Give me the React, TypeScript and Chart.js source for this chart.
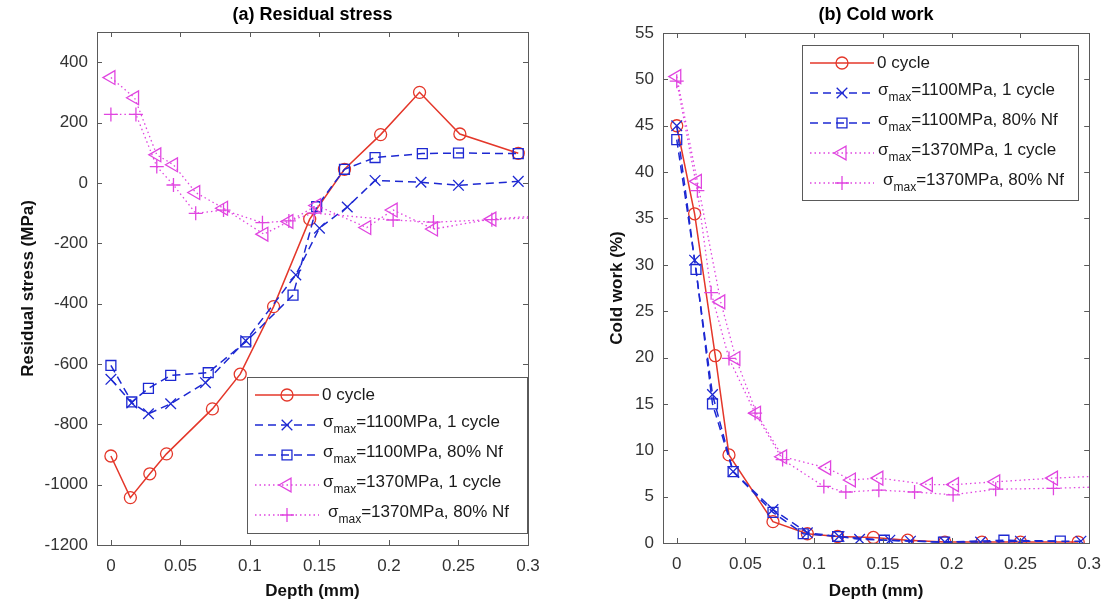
import React, { useEffect, useRef } from 'react';
import { Chart, registerables } from 'chart.js';
Chart.register(...registerables);

// ---------- data ----------
const xTicks = [0, 0.05, 0.1, 0.15, 0.2, 0.25, 0.3];
const stressTicks = [-1200, -1000, -800, -600, -400, -200, 0, 200, 400];
const coldTicks = [0, 5, 10, 15, 20, 25, 30, 35, 40, 45, 50, 55];

const seriesNames = ['0 cycle', '=1100MPa, 1 cycle', '=1100MPa, 80% Nf', '=1370MPa, 1 cycle', '=1370MPa, 80% Nf'];

// (a) residual stress (MPa)
const rsX0 = [0, 0.014, 0.028, 0.040, 0.073, 0.093, 0.117, 0.143, 0.168, 0.194, 0.222, 0.251, 0.293];
const rsY0 = [-905, -1043, -964, -898, -749, -634, -410, -120, 45, 160, 300, 162, 98];
const rsX1 = [0, 0.015, 0.027, 0.043, 0.068, 0.097, 0.133, 0.150, 0.170, 0.190, 0.223, 0.250, 0.293];
const rsY1 = [-651, -729, -765, -732, -662, -523, -305, -150, -80, 8, 2, -8, 5];
const rsX2 = [0, 0.015, 0.027, 0.043, 0.070, 0.097, 0.131, 0.148, 0.168, 0.190, 0.224, 0.250, 0.293];
const rsY2 = [-605, -726, -681, -638, -629, -527, -372, -79, 45, 84, 97, 99, 97];
const rsX3 = [0, 0.017, 0.033, 0.045, 0.061, 0.081, 0.110, 0.128, 0.148, 0.184, 0.203, 0.232, 0.274, 0.32];
const rsY3 = [349, 282, 93, 60, -32, -84, -170, -128, -75, -148, -90, -153, -120, -105];
const rsX4 = [0, 0.018, 0.033, 0.045, 0.061, 0.081, 0.109, 0.128, 0.146, 0.203, 0.232, 0.274, 0.32];
const rsY4 = [227, 227, 54, -7, -101, -90, -132, -126, -100, -123, -130, -122, -112];

// (b) cold work (%)
const cwX0 = [0, 0.013, 0.028, 0.038, 0.070, 0.095, 0.117, 0.143, 0.168, 0.195, 0.222, 0.250, 0.292];
const cwY0 = [45, 35.5, 20.2, 9.5, 2.3, 1.0, 0.7, 0.6, 0.3, 0.1, 0.1, 0.1, 0.1];
const cwX1 = [0, 0.013, 0.026, 0.041, 0.070, 0.095, 0.118, 0.133, 0.155, 0.170, 0.195, 0.221, 0.250, 0.294];
const cwY1 = [45, 30.5, 16, 7.7, 3.6, 1.1, 0.7, 0.4, 0.3, 0.2, 0.1, 0.1, 0.2, 0.2];
const cwX2 = [0, 0.014, 0.026, 0.041, 0.070, 0.092, 0.117, 0.151, 0.194, 0.238, 0.279];
const cwY2 = [43.5, 29.5, 15, 7.7, 3.3, 1.0, 0.7, 0.3, 0.1, 0.3, 0.2];
const cwX3 = [0, 0.015, 0.032, 0.043, 0.058, 0.077, 0.109, 0.127, 0.147, 0.183, 0.202, 0.232, 0.274, 0.32];
const cwY3 = [50.3, 39, 26, 19.9, 14, 9.3, 8.1, 6.8, 7.0, 6.3, 6.3, 6.6, 7.0, 7.3];
const cwX4 = [0, 0.015, 0.025, 0.038, 0.057, 0.077, 0.107, 0.123, 0.147, 0.173, 0.201, 0.232, 0.274, 0.32];
const cwY4 = [49.8, 38, 27, 19.9, 14, 9, 6.1, 5.5, 5.7, 5.5, 5.2, 5.8, 5.9, 6.1];

// ---------- styles ----------
const FONT = '"Liberation Sans", Arial, Helvetica, sans-serif';
const RED = '#e4372a';
const BLUE = '#1d28d2';
const MAG = '#e045e0';
const styles = [
  { color: RED, dash: [] as number[], marker: 'circle', r: 6, rot: 0, lw: 1.5 },
  { color: BLUE, dash: [8, 5], marker: 'crossRot', r: 7.5, rot: 0, lw: 1.5 },
  { color: BLUE, dash: [8, 5], marker: 'rect', r: 7, rot: 0, lw: 1.5 },
  { color: MAG, dash: [1.5, 3], marker: 'triangle', r: 8, rot: -90, lw: 1.3 },
  { color: MAG, dash: [1.5, 3], marker: 'cross', r: 7, rot: 0, lw: 1.3 },
];

function drawMarker(ctx: CanvasRenderingContext2D, m: string, x: number, y: number, r: number) {
  ctx.beginPath();
  if (m === 'circle') {
    ctx.arc(x, y, r, 0, Math.PI * 2);
  } else if (m === 'rect') {
    const s = r * Math.SQRT1_2;
    ctx.rect(x - s, y - s, 2 * s, 2 * s);
  } else if (m === 'triangle') {
    ctx.moveTo(x - r, y);
    ctx.lineTo(x + r * 0.5, y - r * 0.866);
    ctx.lineTo(x + r * 0.5, y + r * 0.866);
    ctx.closePath();
  } else if (m === 'cross') {
    ctx.moveTo(x - r, y); ctx.lineTo(x + r, y);
    ctx.moveTo(x, y - r); ctx.lineTo(x, y + r);
  } else if (m === 'crossRot') {
    const d = r * Math.SQRT1_2;
    ctx.moveTo(x - d, y - d); ctx.lineTo(x + d, y + d);
    ctx.moveTo(x - d, y + d); ctx.lineTo(x + d, y - d);
  }
  ctx.stroke();
}

function makeFrame(title: string, lg: { x: number; y: number; w: number; h: number }) {
  return {
    id: 'frame',
    afterDraw(chart: any) {
      const { ctx, chartArea: a, scales } = chart;
      ctx.save();
      // box
      ctx.strokeStyle = '#5a5a5a';
      ctx.lineWidth = 1;
      ctx.setLineDash([]);
      ctx.strokeRect(Math.round(a.left) + 0.5, Math.round(a.top) + 0.5, Math.round(a.right - a.left), Math.round(a.bottom - a.top));
      const L = 5;
      ctx.beginPath();
      for (const t of scales.x.ticks) {
        const px = Math.round(scales.x.getPixelForValue(t.value)) + 0.5;
        ctx.moveTo(px, a.bottom); ctx.lineTo(px, a.bottom - L);
        ctx.moveTo(px, a.top); ctx.lineTo(px, a.top + L);
      }
      for (const t of scales.y.ticks) {
        const py = Math.round(scales.y.getPixelForValue(t.value)) + 0.5;
        ctx.moveTo(a.left, py); ctx.lineTo(a.left + L, py);
        ctx.moveTo(a.right, py); ctx.lineTo(a.right - L, py);
      }
      ctx.stroke();
      // title
      ctx.fillStyle = '#000';
      ctx.font = `bold 18px ${FONT}`;
      ctx.textAlign = 'center';
      ctx.textBaseline = 'middle';
      ctx.fillText(title, (a.left + a.right) / 2, 15);
      // legend
      ctx.fillStyle = '#fff';
      ctx.fillRect(lg.x, lg.y, lg.w, lg.h);
      ctx.strokeStyle = '#5a5a5a';
      ctx.strokeRect(lg.x + 0.5, lg.y + 0.5, lg.w, lg.h);
      styles.forEach((s, i) => {
        const cy = lg.y + 18 + i * 30;
        ctx.strokeStyle = s.color;
        ctx.lineWidth = s.lw;
        ctx.setLineDash(s.dash);
        ctx.beginPath();
        ctx.moveTo(lg.x + 8, cy);
        ctx.lineTo(lg.x + 72, cy);
        ctx.stroke();
        ctx.setLineDash([]);
        ctx.lineWidth = 1.3;
        drawMarker(ctx, s.marker, lg.x + 40, cy, s.r);
        ctx.fillStyle = '#1a1a1a';
        ctx.textAlign = 'left';
        ctx.textBaseline = 'middle';
        if (i === 0) {
          ctx.font = `17px ${FONT}`;
          ctx.fillText(seriesNames[i], lg.x + 75, cy);
        } else {
          let tx = lg.x + (i === 4 ? 81 : 76);
          const ty = cy - 3;
          ctx.font = `17px ${FONT}`;
          ctx.fillText('σ', tx, ty);
          tx += ctx.measureText('σ').width;
          ctx.font = `12px ${FONT}`;
          ctx.fillText('max', tx, ty + 8);
          tx += ctx.measureText('max').width;
          ctx.font = `17px ${FONT}`;
          ctx.fillText(seriesNames[i], tx, ty);
        }
      });
      ctx.restore();
    },
  };
}

function makeDatasets(xs: number[][], ys: number[][]) {
  return xs.map((xa, i) => {
    const s = styles[i];
    return {
      label: seriesNames[i],
      data: xa.map((x, j) => ({ x, y: ys[i][j] })),
      showLine: true,
      borderColor: s.color,
      borderWidth: s.lw,
      borderDash: s.dash,
      pointStyle: s.marker,
      pointRadius: s.r,
      pointRotation: s.rot,
      pointBorderColor: s.color,
      pointBackgroundColor: 'rgba(0,0,0,0)',
      pointBorderWidth: 1.3,
      fill: false,
      tension: 0,
      order: 5 - i,
    };
  });
}

function makeConfig(opts: {
  datasets: any[]; yMin: number; yMax: number; yTicks: number[]; yTitle: string;
  padR: number; padT: number; yW: number; xH: number; yTitlePad: number; yTickPad: number;
  title: string; legend: { x: number; y: number; w: number; h: number };
}) {
  return {
    type: 'scatter' as const,
    data: { datasets: opts.datasets },
    options: {
      responsive: false,
      animation: false as const,
      layout: { padding: { left: 0, right: opts.padR, top: opts.padT, bottom: 0 } },
      plugins: { legend: { display: false }, tooltip: { enabled: false }, title: { display: false } },
      scales: {
        x: {
          type: 'linear' as const,
          min: -0.01,
          max: 0.3,
          afterBuildTicks: (s: any) => { s.ticks = xTicks.map((v) => ({ value: v })); },
          afterFit: (s: any) => { s.height = opts.xH; },
          grid: { display: false, drawTicks: false },
          border: { display: false },
          ticks: { font: { size: 17, family: FONT }, color: '#333', padding: 11, autoSkip: false, maxRotation: 0, callback: (v: any) => String(v) },
          title: { display: true, text: 'Depth (mm)', color: '#111', font: { size: 17, weight: 'bold' as const, family: FONT }, padding: { top: 0, bottom: 8 } },
        },
        y: {
          type: 'linear' as const,
          min: opts.yMin,
          max: opts.yMax,
          afterBuildTicks: (s: any) => { s.ticks = opts.yTicks.map((v) => ({ value: v })); },
          afterFit: (s: any) => { s.width = opts.yW; },
          grid: { display: false, drawTicks: false },
          border: { display: false },
          ticks: { font: { size: 17, family: FONT }, color: '#333', padding: opts.yTickPad, autoSkip: false, callback: (v: any) => String(v) },
          title: { display: true, text: opts.yTitle, color: '#111', font: { size: 17, weight: 'bold' as const, family: FONT }, padding: { top: opts.yTitlePad, bottom: 0 } },
        },
      },
    },
    plugins: [makeFrame(opts.title, opts.legend)],
  };
}

export default function App() {
  const leftRef = useRef<HTMLCanvasElement>(null);
  const rightRef = useRef<HTMLCanvasElement>(null);

  useEffect(() => {
    const c1 = new Chart(leftRef.current as HTMLCanvasElement, makeConfig({
      datasets: makeDatasets([rsX0, rsX1, rsX2, rsX3, rsX4], [rsY0, rsY1, rsY2, rsY3, rsY4]),
      yMin: -1200, yMax: 500, yTicks: stressTicks, yTitle: 'Residual stress (MPa)',
      padR: 28, padT: 32, yW: 97, xH: 65, yTitlePad: 18, yTickPad: 9,
      title: '(a) Residual stress',
      legend: { x: 247, y: 377, w: 280, h: 156 },
    }) as any);
    const c2 = new Chart(rightRef.current as HTMLCanvasElement, makeConfig({
      datasets: makeDatasets([cwX0, cwX1, cwX2, cwX3, cwX4], [cwY0, cwY1, cwY2, cwY3, cwY4]),
      yMin: 0, yMax: 55, yTicks: coldTicks, yTitle: 'Cold work (%)',
      padR: 16, padT: 33, yW: 107, xH: 67, yTitlePad: 51, yTickPad: 9,
      title: '(b) Cold work',
      legend: { x: 246, y: 45, w: 276, h: 155 },
    }) as any);
    return () => { c1.destroy(); c2.destroy(); };
  }, []);

  return (
    <div style={{ position: 'fixed', left: 0, top: 0, width: 1112, height: 610, background: '#fff' }}>
      <canvas ref={leftRef} width={556} height={610} style={{ position: 'absolute', left: 0, top: 0, width: 556, height: 610 }} />
      <canvas ref={rightRef} width={556} height={610} style={{ position: 'absolute', left: 556, top: 0, width: 556, height: 610 }} />
    </div>
  );
}
